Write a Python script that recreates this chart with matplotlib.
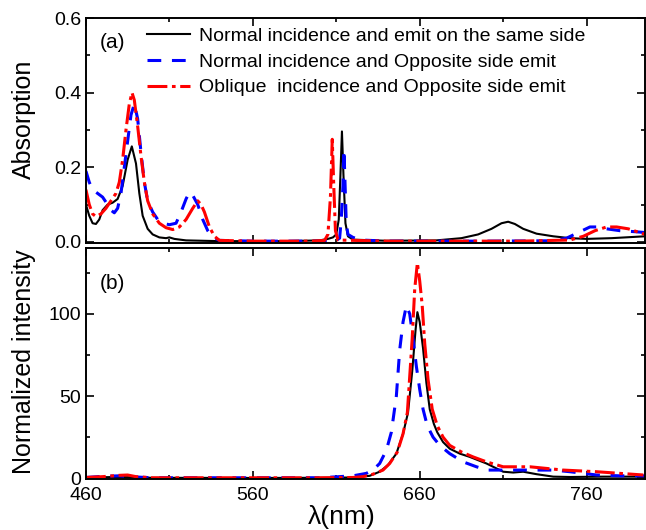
import numpy as np
import matplotlib
matplotlib.use('Agg')
import matplotlib.pyplot as plt
from matplotlib.ticker import MultipleLocator

plt.rcParams['font.family'] = ['Liberation Sans', 'DejaVu Sans']

legend_labels = ['Normal incidence and emit on the same side',
                 'Normal incidence and Opposite side emit',
                 'Oblique  incidence and Opposite side emit']
x_major = [460, 560, 660, 760]
x_minor = [510, 610, 710]

# (a) absorption
wl_abs_same = [460, 462, 464, 466, 468, 470, 473, 476, 479, 482, 485, 487.5, 490, 492, 494, 497,
               500, 504, 508, 510, 513, 520, 540, 580, 600, 605, 608, 610, 611.5, 612.5, 613.4,
               614.3, 615.5, 617, 620, 640, 670, 685, 695, 703, 709, 713, 717, 722, 730, 740,
               750, 760, 775, 795]
abs_same = [0.10, 0.07, 0.05, 0.048, 0.06, 0.085, 0.10, 0.105, 0.115, 0.15, 0.22, 0.256, 0.21,
            0.13, 0.07, 0.035, 0.02, 0.012, 0.01, 0.012, 0.008, 0.004, 0.002, 0.002, 0.004,
            0.008, 0.012, 0.02, 0.06, 0.18, 0.296, 0.18, 0.05, 0.015, 0.006, 0.003, 0.004, 0.01,
            0.02, 0.035, 0.05, 0.054, 0.048, 0.035, 0.022, 0.015, 0.01, 0.008, 0.01, 0.015]

wl_abs_normal = [460, 462, 464, 467, 470, 473, 475, 477, 479, 481, 483, 485, 487, 489, 491, 493,
                 495, 497, 500, 503, 506, 510, 514, 517, 520, 522, 524, 527, 530, 533, 536, 540,
                 560, 600, 610, 612, 613, 614, 614.6, 615.3, 616, 617, 620, 625, 640, 700, 740,
                 748, 755, 762, 767, 772, 780, 790, 795]
abs_normal = [0.19, 0.16, 0.14, 0.13, 0.12, 0.10, 0.085, 0.078, 0.09, 0.13, 0.20, 0.27, 0.34,
              0.37, 0.33, 0.24, 0.16, 0.11, 0.08, 0.06, 0.05, 0.046, 0.05, 0.08, 0.115, 0.133,
              0.125, 0.10, 0.06, 0.03, 0.012, 0.004, 0.002, 0.002, 0.004, 0.01, 0.06, 0.15,
              0.248, 0.15, 0.05, 0.02, 0.012, 0.005, 0.002, 0.002, 0.003, 0.01, 0.025, 0.04,
              0.04, 0.035, 0.03, 0.027, 0.025]

wl_abs_oblique = [460, 462, 464, 466, 469, 472, 475, 478, 480, 482, 484, 486, 487.6, 489, 491,
                  493, 495, 497, 500, 504, 508, 512, 516, 520, 524, 527, 529, 531, 534, 537, 540,
                  560, 595, 603, 605, 606.5, 607.6, 608.5, 609.5, 611, 640, 720, 750, 758, 765,
                  772, 778, 785, 795]
abs_oblique = [0.14, 0.10, 0.075, 0.068, 0.075, 0.09, 0.11, 0.13, 0.16, 0.22, 0.30, 0.37, 0.40,
               0.38, 0.31, 0.23, 0.16, 0.11, 0.075, 0.05, 0.038, 0.033, 0.04, 0.06, 0.09, 0.11,
               0.10, 0.08, 0.04, 0.015, 0.004, 0.002, 0.002, 0.004, 0.02, 0.12, 0.275, 0.15,
               0.03, 0.005, 0.002, 0.002, 0.005, 0.015, 0.03, 0.04, 0.04, 0.035, 0.02]

# (b) normalized emission intensity
wl_em_same = [460, 480, 500, 560, 600, 620, 630, 636, 641, 646, 650, 653, 655.5, 657.5, 658.6,
              660, 662, 664, 666, 668.5, 670.5, 674, 678, 684, 690, 700, 710, 716, 722, 730,
              740, 750, 770, 795]
em_same = [0.5, 0.8, 0.3, 0.2, 0.3, 0.5, 1.5, 4, 8, 15, 27, 40, 65, 90, 101, 95, 79, 58, 42, 33,
           28, 22, 18, 15, 13, 9, 4, 3.5, 4, 2.5, 1, 0.8, 1, 1]

wl_em_normal = [460, 470, 480, 490, 500, 600, 620, 628, 632, 636, 640, 643, 646, 648, 650, 652,
                654, 656, 658, 660, 662, 664.5, 668, 672, 678, 686, 694, 700.5, 720, 740, 750,
                766, 780, 795]
em_normal = [0.5, 1.2, 1.5, 0.8, 0.3, 0.3, 1.5, 3, 5, 9, 17, 28, 50, 78, 95, 105, 100, 85, 68,
             54, 42, 32, 25, 20, 15, 10, 7, 5, 5, 5, 4, 2, 1.5, 1.5]

wl_em_oblique = [460, 470, 480, 485, 490, 500, 600, 620, 626, 632, 638, 642, 646.6, 650, 652.6,
                 655.5, 657, 658.6, 660, 661.5, 663, 665, 667.5, 670.5, 674, 678, 685, 692, 700,
                 710, 726, 746, 766, 780, 794]
em_oblique = [0.5, 1, 1.8, 2, 1, 0.3, 0.3, 0.5, 1, 2.5, 5, 9, 16, 27, 40, 85, 115, 131, 120, 105,
              82, 60, 42, 32, 25, 20, 16, 13, 10, 7, 7, 5, 4, 3, 2]

fig = plt.figure(figsize=(6.46, 5.30), dpi=100)
ax1 = fig.add_axes([0.133, 0.5415, 0.8655, 0.4245])
ax2 = fig.add_axes([0.133, 0.096, 0.8655, 0.436])

def draw(ax, xs, ys):
    ax.plot(xs[0], ys[0], color='black', lw=1.5, label=legend_labels[0])
    ax.plot(xs[1], ys[1], color='blue', lw=2.2, dashes=(4.5, 3.5), label=legend_labels[1])
    ax.plot(xs[2], ys[2], color='red', lw=2.2, dashes=(6.5, 1.5, 1.2, 1.5), label=legend_labels[2])

draw(ax1, [wl_abs_same, wl_abs_normal, wl_abs_oblique], [abs_same, abs_normal, abs_oblique])
draw(ax2, [wl_em_same, wl_em_normal, wl_em_oblique], [em_same, em_normal, em_oblique])

for ax in (ax1, ax2):
    ax.set_xlim(460, 795)
    ax.set_xticks(x_major)
    ax.set_xticks(x_minor, minor=True)
    ax.tick_params(which='both', direction='in', top=True, right=True, labelsize=14, width=1.2)
    ax.tick_params(which='major', length=6)
    ax.tick_params(which='minor', length=3)
    ax.tick_params(axis='x', pad=6)
    for s in ax.spines.values():
        s.set_linewidth(1.4)

ax1.set_ylim(-0.003, 0.6)
ax1.yaxis.set_major_locator(MultipleLocator(0.2))
ax1.yaxis.set_minor_locator(MultipleLocator(0.1))
ax1.yaxis.set_major_formatter(plt.FormatStrFormatter('%.1f'))
ax1.tick_params(labelbottom=False)

ax2.set_ylim(-0.5, 140)
ax2.yaxis.set_major_locator(MultipleLocator(50))
ax2.yaxis.set_minor_locator(MultipleLocator(25))

ax1.text(0.025, 0.89, '(a)', transform=ax1.transAxes, fontsize=15, va='center')
ax2.text(0.025, 0.845, '(b)', transform=ax2.transAxes, fontsize=15, va='center')

ax1.legend(loc='upper left', bbox_to_anchor=(0.106, 0.968), frameon=False, fontsize=14,
           handlelength=2.2, handletextpad=0.45, labelspacing=0.42, borderpad=0.1, borderaxespad=0)

fig.text(24 / 646, 1 - 119 / 530, 'Absorption', rotation=90, fontsize=18, ha='center', va='center')
fig.text(24 / 646, 1 - 362 / 530, 'Normalized intensity', rotation=90, fontsize=18,
         ha='center', va='center')
fig.text(342 / 646, 1 - 517 / 530, 'λ(nm)', fontsize=19, ha='center', va='center')

fig.savefig('out.png', dpi=100)
